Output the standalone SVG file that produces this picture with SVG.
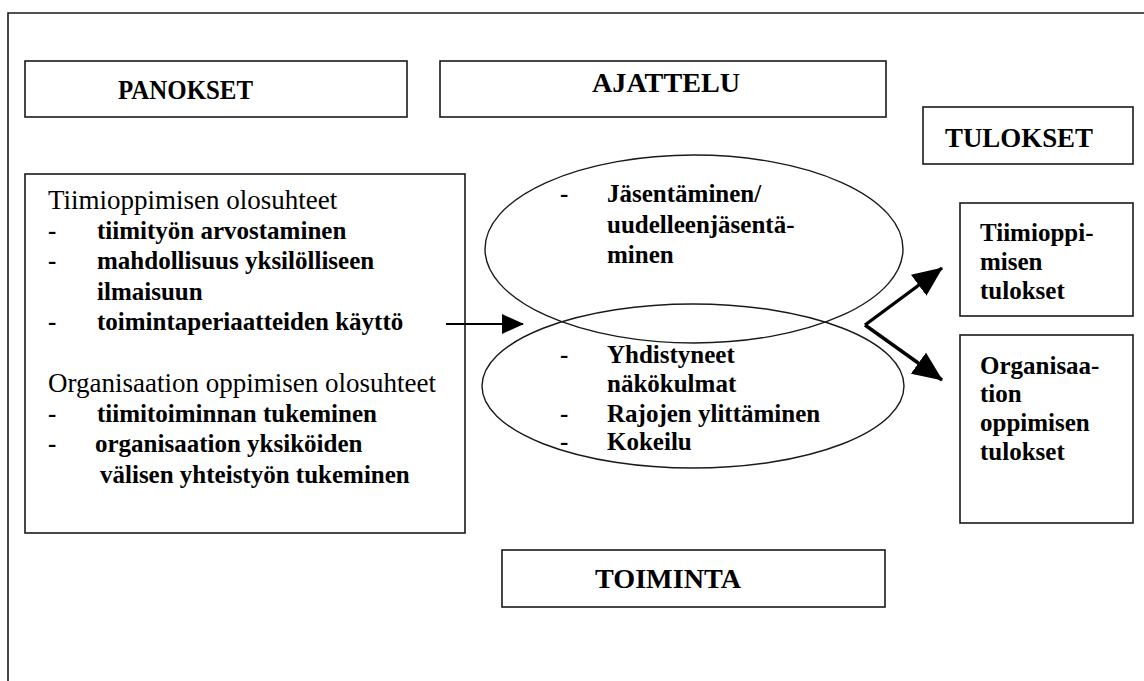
<svg xmlns="http://www.w3.org/2000/svg" width="1144" height="681" viewBox="0 0 1144 681">
<style>
.box{fill:none;stroke:#1a1a1a;stroke-width:1.6}
.frame{fill:none;stroke:#1a1a1a;stroke-width:1.6}
.ell{fill:none;stroke:#1a1a1a;stroke-width:1.4}
.hdr{font-family:"Liberation Serif","Times New Roman",serif;font-size:28px;font-weight:bold;fill:#000}
.reg{font-family:"Liberation Serif","Times New Roman",serif;font-size:27px;fill:#000}
.bld{font-family:"Liberation Serif","Times New Roman",serif;font-size:25px;font-weight:bold;fill:#000}
.conn{fill:none;stroke:#000}
</style>
<defs>
<marker id="headS" markerUnits="userSpaceOnUse" markerWidth="22" markerHeight="20" refX="21" refY="10" orient="auto">
<path d="M0,0 L22,10 L0,20 z" fill="#000"/>
</marker>
<marker id="headL" markerUnits="userSpaceOnUse" markerWidth="30" markerHeight="26" refX="29" refY="13" orient="auto">
<path d="M0,0 L30,13 L0,26 z" fill="#000"/>
</marker>
</defs>
<rect width="1144" height="681" fill="#fff"/>
<path class="frame" d="M8,681 L8,13 L1144,13"/>

<g id="panokset">
<rect class="box" x="25" y="61" width="382" height="56"/>
<text class="hdr" x="118" y="99" textLength="135" lengthAdjust="spacingAndGlyphs">PANOKSET</text>
</g>
<g id="ajattelu">
<rect class="box" x="440" y="61" width="446" height="56"/>
<text class="hdr" x="592" y="92" textLength="148" lengthAdjust="spacingAndGlyphs">AJATTELU</text>
</g>
<g id="tulokset">
<rect class="box" x="923" y="107" width="210" height="57"/>
<text class="hdr" x="945" y="147" textLength="148" lengthAdjust="spacingAndGlyphs">TULOKSET</text>
</g>
<g id="toiminta">
<rect class="box" x="502" y="550" width="383" height="57"/>
<text class="hdr" x="595" y="588" textLength="146" lengthAdjust="spacingAndGlyphs">TOIMINTA</text>
</g>

<g id="olosuhteet">
<rect class="box" x="25" y="174" width="440" height="359"/>
<text class="reg" x="48" y="209">Tiimioppimisen olosuhteet</text>
<text class="bld" x="48" y="239">-</text><text class="bld" x="97" y="239">tiimityön arvostaminen</text>
<text class="bld" x="48" y="269">-</text><text class="bld" x="97" y="269">mahdollisuus yksilölliseen</text>
<text class="bld" x="97" y="300">ilmaisuun</text>
<text class="bld" x="48" y="330">-</text><text class="bld" x="97" y="330">toimintaperiaatteiden käyttö</text>
<text class="reg" x="48" y="392">Organisaation oppimisen olosuhteet</text>
<text class="bld" x="48" y="422">-</text><text class="bld" x="97" y="422">tiimitoiminnan tukeminen</text>
<text class="bld" x="48" y="452">-</text><text class="bld" x="95" y="452">organisaation yksiköiden</text>
<text class="bld" x="100" y="483">välisen yhteistyön tukeminen</text>
</g>

<g id="jasentaminen">
<ellipse class="ell" cx="694" cy="249" rx="209" ry="94"/>
<text class="bld" x="560" y="202">-</text><text class="bld" x="607" y="202">Jäsentäminen/</text>
<text class="bld" x="607" y="233">uudelleenjäsentä-</text>
<text class="bld" x="607" y="263">minen</text>
</g>
<g id="yhdistyneet">
<ellipse class="ell" cx="693" cy="386" rx="211" ry="82"/>
<text class="bld" x="560" y="363">-</text><text class="bld" x="607" y="363">Yhdistyneet</text>
<text class="bld" x="607" y="392">näkökulmat</text>
<text class="bld" x="560" y="422">-</text><text class="bld" x="607" y="422">Rajojen ylittäminen</text>
<text class="bld" x="560" y="450">-</text><text class="bld" x="607" y="450">Kokeilu</text>
</g>

<g id="tiimi-tulokset">
<rect class="box" x="960" y="203" width="173" height="113"/>
<text class="bld" x="980" y="241">Tiimioppi-</text>
<text class="bld" x="980" y="270">misen</text>
<text class="bld" x="980" y="299">tulokset</text>
</g>
<g id="org-tulokset">
<rect class="box" x="960" y="335" width="173" height="188"/>
<text class="bld" x="980" y="374">Organisaa-</text>
<text class="bld" x="980" y="402">tion</text>
<text class="bld" x="980" y="431">oppimisen</text>
<text class="bld" x="980" y="460">tulokset</text>
</g>

<g id="connectors">
<path class="conn" stroke-width="2" d="M446,324 L523,324" marker-end="url(#headS)"/>
<path class="conn" stroke-width="3.4" d="M865,325 L942,268" marker-end="url(#headL)"/>
<path class="conn" stroke-width="3.4" d="M865,325 L942,380" marker-end="url(#headL)"/>
</g>
</svg>
